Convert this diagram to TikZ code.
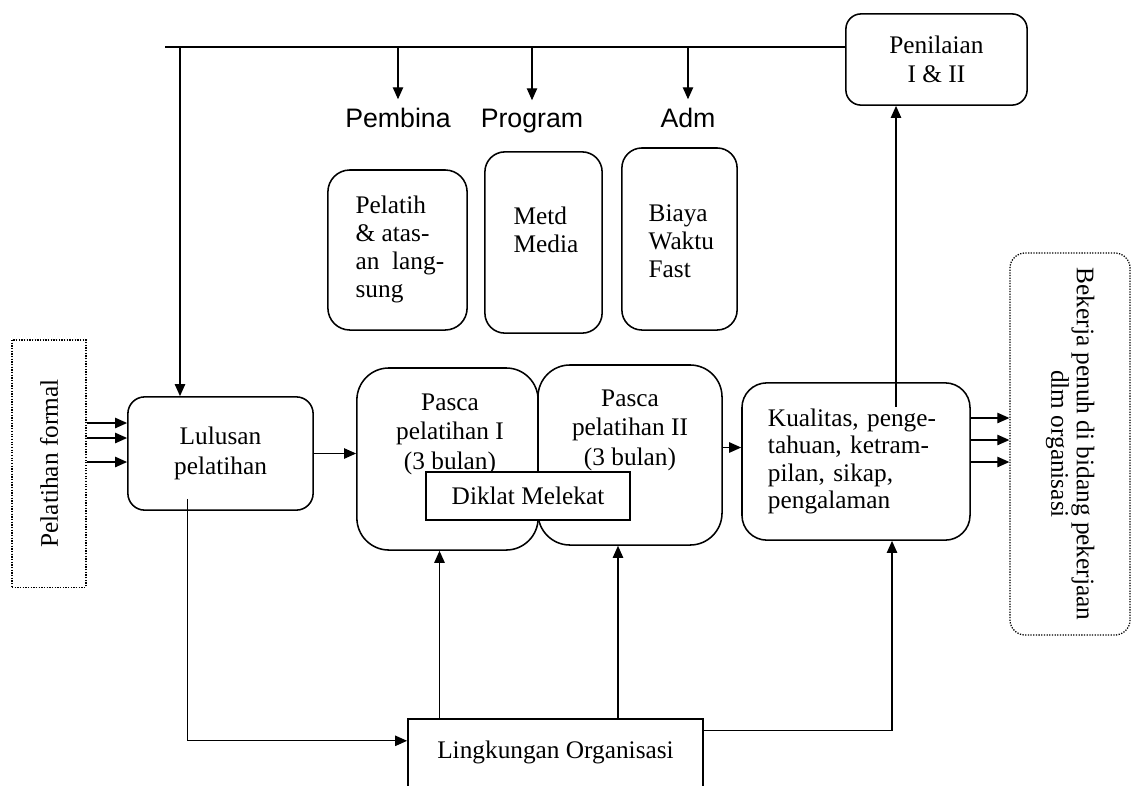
\documentclass[tikz,border=0pt]{standalone}
\usepackage{fontspec}
\setmainfont{Liberation Serif}
\newfontfamily\headfont{Liberation Sans}
\usetikzlibrary{arrows.meta}

\begin{document}
\begin{tikzpicture}[x=0.025cm,y=0.025cm,line width=0.9pt]
\tikzstyle{every node}+=[font=\fontsize{18}{21}\selectfont]
\tikzstyle{box}=[draw,line width=1.1pt,rounded corners=0.5cm]
\tikzstyle{dotbox}=[draw,densely dotted,line width=0.9pt]
\tikzstyle{head}=[font=\headfont\fontsize{19}{22}\selectfont,anchor=base,inner sep=0.55em]
\tikzstyle{txt}=[inner sep=0pt,align=left,font=\fontsize{18}{20}\selectfont]
\tikzstyle{arr}=[-{Triangle[length=0.3cm,width=0.26cm]}]
\useasboundingbox (0,0) rectangle (1131,-785);
\node[dotbox,minimum width=1.85cm,minimum height=6.18cm] (formal) at (49,-463.5) {\rotatebox{90}{Pelatihan formal}};
\node[box,rounded corners=0.42cm,minimum width=4.63cm,minimum height=2.83cm,align=center] (lulusan) at (220.5,-453.5) {Lulusan\\pelatihan};
\node[box,rounded corners=0.8cm,minimum width=4.53cm,minimum height=4.55cm] (pasca1) at (447.5,-459) {};
\node[box,rounded corners=0.8cm,minimum width=4.6cm,minimum height=4.5cm] (pasca2) at (630,-455) {};
\node[txt,align=center,anchor=north,font=\fontsize{18}{21}\selectfont] (pasca1txt) at (450,-393) {Pasca\\pelatihan I\\(3 bulan)};
\node[txt,align=center,anchor=north,font=\fontsize{18}{21}\selectfont] (pasca2txt) at (630,-389) {Pasca\\pelatihan II\\(3 bulan)};
\node[draw,fill=white,line width=1.1pt,minimum width=5.1cm,minimum height=1.2cm] (diklat) at (528,-496) {Diklat Melekat};
\node[box,rounded corners=0.62cm,minimum width=5.7cm,minimum height=3.93cm,text width=4.4cm,align=left,font=\fontsize{18}{19.5}\selectfont] (kualitas) at (856,-461.5) {Kualitas, penge-\\tahuan, ketram-\\pilan, sikap,\\pengalaman};
\node[box,rounded corners=0.38cm,minimum width=4.53cm,minimum height=2.28cm,align=center] (penilaian) at (936.5,-59.5) {Penilaian\\I \& II};
\node[dotbox,rounded corners=0.38cm,minimum width=3cm,minimum height=9.55cm] (bekerja) at (1070,-444) {\rotatebox{-90}{\begin{tabular}{@{}c@{}}Bekerja penuh di bidang pekerjaan\\[-3pt]dlm organisasi\end{tabular}}};
\node[draw,line width=1.1pt,minimum width=7.38cm,minimum height=2.15cm] (lingkungan) at (555.5,-762) {};
\node[anchor=base,inner sep=0pt] (lingtxt) at (555.5,-758) {Lingkungan Organisasi};
\node[box,rounded corners=0.55cm,minimum width=3.48cm,minimum height=4cm] (pelatih) at (397.5,-250) {};
\node[box,minimum width=2.93cm,minimum height=4.53cm] (metd) at (543.5,-242.5) {};
\node[box,minimum width=2.88cm,minimum height=4.55cm] (biaya) at (679.5,-239) {};
\node[txt,anchor=north west] (pelatihtxt) at (355,-195) {Pelatih\\\&~atas-\\an~~lang-\\sung};
\node[txt,anchor=north west] (metdtxt) at (513,-206) {Metd\\Media};
\node[txt,anchor=north west] (biayatxt) at (648,-204) {Biaya\\Waktu\\Fast};
\node[head] (pembina) at (398,-127) {Pembina};
\node[head] (program) at (532,-127) {Program};
\node[head] (adm) at (688,-127) {Adm};
\coordinate (top) at (165,-47);
\coordinate (feed) at (180,-47);
\draw (top) -- (top -| penilaian.west);
\foreach \n in {pembina,program,adm}
  \draw[arr] (top -| \n) -- (\n.north);
\draw[arr] (feed) -- (feed |- lulusan.north);
\foreach \y in {423,438,462}{
  \coordinate (f) at (0,-\y);
  \draw[arr] (formal.east |- f) -- (lulusan.west |- f);
}
\draw[arr] (lulusan.east) -- (lulusan.east -| pasca1.west);
\coordinate (k) at ([yshift=0.35cm]kualitas.west);
\draw[arr] (pasca2.east |- k) -- (k);
\foreach \y in {418,440,462}{
  \coordinate (g) at (0,-\y);
  \draw[arr] (kualitas.east |- g) -- (bekerja.west |- g);
}
\coordinate (q) at ([xshift=1cm,yshift=-0.62cm]kualitas.north);
\draw[arr] (q) -- (q |- penilaian.south);
\coordinate (lo) at ([xshift=-0.82cm,yshift=0.3cm]lulusan.south);
\draw[arr] (lo) |- ([yshift=0.53cm]lingkungan.west);
\coordinate (p1) at ([xshift=-0.2cm]pasca1.south);
\coordinate (p2) at ([xshift=-0.3cm]pasca2.south);
\draw[arr] (p1 |- lingkungan.north) -- (p1);
\draw[arr] (p2 |- lingkungan.north) -- (p2);
\coordinate (k2) at ([xshift=0.9cm]kualitas.south);
\draw[arr] ([yshift=-0.3cm]lingkungan.north east) -| (k2);
\end{tikzpicture}
\end{document}
